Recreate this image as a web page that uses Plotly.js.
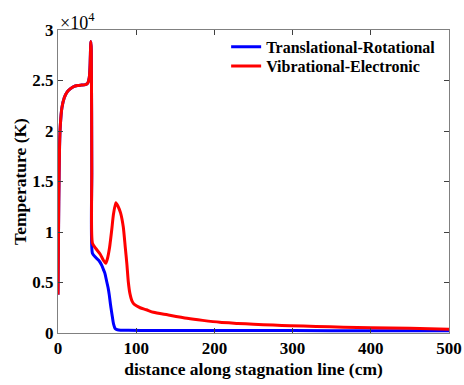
<!DOCTYPE html>
<html>
<head>
<meta charset="utf-8">
<script src="https://cdn.plot.ly/plotly-3.0.1.min.js"></script>
<style>
  html, body { margin: 0; padding: 0; background: #fff; }
  #chart { width: 464px; height: 385px; }
</style>
</head>
<body>
<div id="chart"></div>
<script>
// Temperature profiles along the stagnation line (distance in cm, temperature in K)
const trDistance = [0, 0.5, 1, 2, 3, 5, 8, 12, 16, 20, 25, 30, 35, 38, 40, 41, 42, 42.6, 43.2, 44,
  48, 52, 56, 58, 60, 62, 64, 65.5, 67, 68.5, 69.5, 71, 73, 76, 80, 90, 120, 200, 300, 400, 500];
const trTemperature = [3800, 8500, 13000, 18500, 20600, 22300, 23300, 23900, 24200, 24400, 24500, 24550, 24600, 24750, 25300, 26500, 28850, 28000, 16000, 7900,
  7500, 7200, 6700, 6300, 5900, 5200, 4500, 3800, 2900, 2100, 1600, 900, 450, 320, 280, 260, 250, 240, 240, 230, 220];

const veDistance = [0, 0.5, 1, 2, 3, 5, 8, 12, 16, 20, 25, 30, 35, 38, 40, 41, 42, 42.6, 43.2, 44,
  48, 54, 58, 61, 63, 66, 68.7, 71, 74, 77, 80, 83.5, 86, 88, 90, 92, 95, 98, 105, 113, 122,
  140, 165, 185, 207, 230, 250, 275, 297, 330, 365, 400, 450, 500];
const veTemperature = [3800, 8500, 13000, 18500, 20600, 22300, 23300, 23900, 24200, 24400, 24500, 24550, 24600, 24750, 25300, 26500, 28850, 28000, 16000, 8900,
  8400, 7800, 7200, 6900, 7300, 8500, 10200, 11800, 12900, 12500, 11900, 10500, 8500, 6900, 5000, 3900, 3100, 2800, 2500, 2300, 2050,
  1800, 1460, 1250, 1060, 950, 860, 780, 720, 650, 580, 530, 460, 370];

const seriesNames = ['Translational-Rotational', 'Vibrational-Electronic'];
const xTicks = [0, 100, 200, 300, 400, 500];
const yTicks = [0, 5000, 10000, 15000, 20000, 25000, 30000];
const yTickText = ['0', '0.5', '1', '1.5', '2', '2.5', '3'];

const serif = '"Liberation Serif", "Times New Roman", serif';
const boldFont = (size) => ({ family: serif, size: size, color: '#000', weight: 'bold' });

const traces = [
  { x: trDistance, y: trTemperature, name: seriesNames[0], mode: 'lines', legend: 'legend',
    line: { color: '#0000ff', width: 3, shape: 'spline', smoothing: 0.6 } },
  { x: veDistance, y: veTemperature, name: seriesNames[1], mode: 'lines', legend: 'legend2',
    line: { color: '#ff0000', width: 3, shape: 'spline', smoothing: 0.6 } }
];

const axisCommon = {
  showgrid: false, zeroline: false,
  showline: true, linecolor: '#808080', linewidth: 1, mirror: 'ticks',
  ticks: 'inside', ticklen: 5, tickcolor: '#404040', tickwidth: 1,
  tickfont: boldFont(17)
};

// one legend box per series so the two rows sit close together
const legendBox = (y) => ({
  x: 0.43, y: y, xanchor: 'left', yanchor: 'middle',
  bgcolor: 'rgba(255,255,255,0)', borderwidth: 0,
  font: boldFont(16), itemwidth: 30
});

const layout = {
  width: 464, height: 385,
  margin: { l: 58, r: 15, t: 30, b: 52 },
  paper_bgcolor: '#fff', plot_bgcolor: '#fff',
  showlegend: true,
  legend: legendBox(0.944),
  legend2: legendBox(0.881),
  xaxis: Object.assign({}, axisCommon, {
    range: [0, 500], tickvals: xTicks,
    title: { text: 'distance along stagnation line (cm)', font: boldFont(17.5), standoff: 5 }
  }),
  yaxis: Object.assign({}, axisCommon, {
    range: [0, 30000], tickvals: yTicks, ticktext: yTickText,
    title: { text: 'Temperature (K)', font: boldFont(17.5), standoff: 1 }
  }),
  annotations: [{
    xref: 'paper', yref: 'paper', x: 0, y: 1, xanchor: 'left', yanchor: 'bottom',
    xshift: 0, yshift: -5, showarrow: false,
    text: '\u00d710<sup>4</sup>', font: { family: serif, size: 18, color: '#000' }
  }]
};

Plotly.newPlot('chart', traces, layout, { displayModeBar: false, staticPlot: true });
</script>
</body>
</html>
